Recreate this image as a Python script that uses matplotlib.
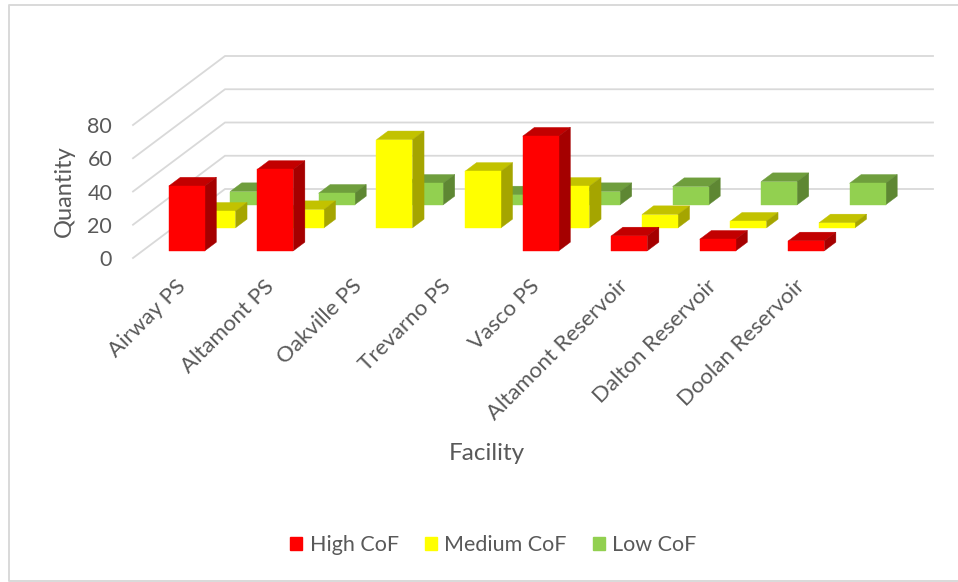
import matplotlib
matplotlib.use('Agg')
import matplotlib.pyplot as plt
from matplotlib.lines import Line2D
from matplotlib.patches import Rectangle

facilities = ['Airway PS', 'Altamont PS', 'Oakville PS', 'Trevarno PS', 'Vasco PS',
              'Altamont Reservoir', 'Dalton Reservoir', 'Doolan Reservoir']
high_cof = [39, 49, 0, 0, 69, 9, 7, 6]
medium_cof = [10, 11, 53, 34, 25, 8, 4, 3]
low_cof = [8, 7, 13, 6, 8, 11, 14, 13]
y_ticks = [0, 20, 40, 60, 80]

W, H = 958, 582
TEXT = '#595959'
GRID = '#d9d9d9'

# oblique depth: one unit of depth moves this far in x (categories) and y (quantity)
DEPTH_X = 92 / 88.5
DEPTH_Y = 69 / 1.6625
BAR_W = 36 / 88.5
BAR_D = 0.126

plt.rcParams['font.family'] = ['Lato', 'DejaVu Sans']

fig = plt.figure(figsize=(W / 100, H / 100), dpi=100)

# chart border runs off the right edge of the image
fx = [W / W, 8.5 / W, 8.5 / W, W / W]
fy = [1 - 5 / H, 1 - 5 / H, 1 - 580.5 / H, 1 - 580.5 / H]
fig.add_artist(Line2D(fx, fy, transform=fig.transFigure, color=GRID, lw=1.4))

ax = fig.add_axes([133 / W, 1 - 258 / H, 708 / W, 133 / H])
ax.set_xlim(0, 8)
ax.set_ylim(0, 80)
for s in ax.spines.values():
    s.set_visible(False)
ax.patch.set_visible(False)


def project(x, d, v):
    return x + d * DEPTH_X, v + d * DEPTH_Y


def draw_bar(x, d, v, front, top, side):
    x0, x1 = x - BAR_W / 2, x + BAR_W / 2
    faces = [
        ([(x0, d, v), (x1, d, v), (x1, d + BAR_D, v), (x0, d + BAR_D, v)], top),
        ([(x1, d, 0), (x1, d + BAR_D, 0), (x1, d + BAR_D, v), (x1, d, v)], side),
        ([(x0, d, 0), (x1, d, 0), (x1, d, v), (x0, d, v)], front),
    ]
    for corners, color in faces:
        pts = [project(*c) for c in corners]
        ax.fill([p[0] for p in pts], [p[1] for p in pts], color=color, lw=0.3, clip_on=False, zorder=3)


# back wall and left wall gridlines sit behind the bars
for t in y_ticks:
    bx, by = project(0, 1, t)
    ax.plot([0, bx, project(8, 1, t)[0]], [t, by, by], color=GRID, lw=1.3, clip_on=False,
            solid_joinstyle='miter', zorder=1)

series = [
    ('Low CoF', low_cof, 5 / 6, '#92d050', '#6f9e3d', '#5e8733'),
    ('Medium CoF', medium_cof, 1 / 2, '#ffff00', '#c2c200', '#a5a500'),
    ('High CoF', high_cof, 1 / 6, '#ff0000', '#c20000', '#a50000'),
]
for name, values, depth, front, top, side in series:
    for i, v in enumerate(values):
        if v > 0:
            draw_bar(i + 0.5, depth - BAR_D / 2, v, front, top, side)

ax.set_yticks(y_ticks)
# labels end a little left of the category centre
ax.set_xticks([i + 0.475 for i in range(len(facilities))])
ax.tick_params(length=0, labelcolor=TEXT)
ax.tick_params(axis='y', labelsize=15.5, pad=15)
ax.tick_params(axis='x', pad=13)
ax.set_xticklabels(facilities, rotation=45, ha='right', rotation_mode='anchor', fontsize=16)

fig.text(64 / W, 1 - 191 / H, 'Quantity', rotation=90, color=TEXT, fontsize=17, ha='center', va='center')
fig.text(486.5 / W, 1 - 454 / H, 'Facility', color=TEXT, fontsize=17.5, ha='center', va='center')

handles = [Rectangle((0, 0), 1, 1, color=c) for c in ('#ff0000', '#ffff00', '#92d050')]
fig.legend(handles, ['High CoF', 'Medium CoF', 'Low CoF'], loc='center', ncol=3,
           bbox_to_anchor=(493.5 / W, 1 - 545 / H), frameon=False, labelcolor=TEXT, fontsize=15.5,
           handlelength=0.56, handleheight=0.56, handletextpad=0.35, columnspacing=1.2)

fig.savefig('out.png', dpi=100)
